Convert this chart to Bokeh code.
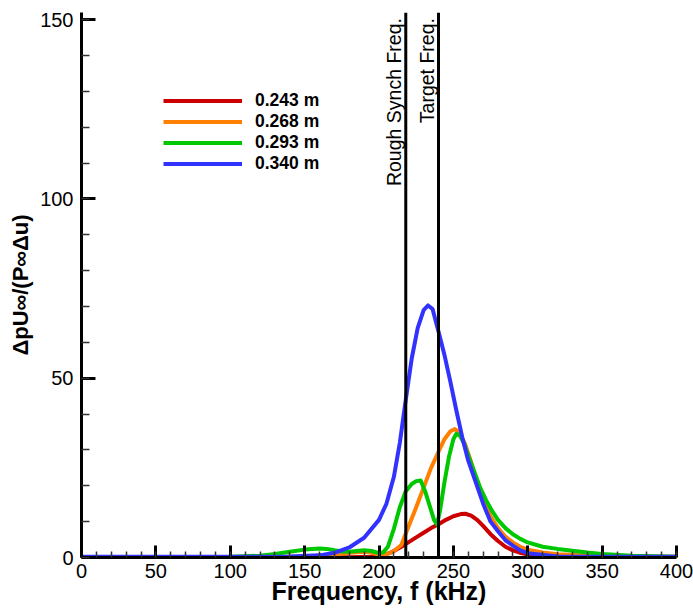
from bokeh.plotting import figure
from bokeh.models import Span, Label, Legend, LegendItem, FixedTicker, Range1d
from bokeh.embed import file_html
from bokeh.resources import INLINE

# ---------------- data ----------------
series_labels = ["0.243 m", "0.268 m", "0.293 m", "0.340 m"]
series_colors = ["#cc0000", "#ff8000", "#00c800", "#3232ff"]

f_red = [0, 100, 180, 195, 200, 205, 210, 215, 220, 225, 230, 235, 240, 245, 250,
         255, 258, 262, 266, 270, 275, 280, 285, 290, 295, 300, 310, 320, 350, 400]
v_red = [0.1, 0.1, 0.1, 0.2, 0.4, 0.9, 1.8, 3.0, 4.3, 5.6, 6.9, 8.2, 9.3, 10.5, 11.5,
         12.1, 12.2, 11.7, 10.5, 8.8, 6.5, 4.6, 3.0, 2.0, 1.3, 0.8, 0.4, 0.2, 0.1, 0.1]

f_orange = [0, 100, 150, 170, 180, 190, 195, 200, 205, 210, 215, 220, 225, 230, 235,
            240, 244, 248, 251, 254, 258, 262, 266, 270, 275, 280, 285, 290, 295, 300,
            310, 320, 350, 400]
v_orange = [0.1, 0.1, 0.3, 0.8, 1.3, 1.6, 1.3, 0.8, 0.9, 1.8, 3.5, 8.8, 14.0, 19.5, 25.0,
            29.5, 33.0, 35.2, 35.8, 35.0, 31.5, 26.5, 21.0, 16.5, 11.5, 8.2, 5.8, 4.2, 3.0, 2.2,
            1.4, 0.9, 0.4, 0.2]

f_green = [0, 100, 120, 130, 140, 150, 155, 160, 165, 170, 175, 180, 185, 190, 195,
           200, 203, 206, 210, 214, 218, 222, 225, 228, 231, 234, 237, 239, 241, 244,
           247, 250, 252, 254, 257, 260, 264, 268, 272, 276, 280, 285, 290, 295, 300,
           310, 320, 330, 340, 350, 370, 400]
v_green = [0.1, 0.2, 0.5, 1.0, 1.6, 2.2, 2.4, 2.5, 2.4, 2.0, 1.7, 1.6, 1.8, 2.0, 1.8,
           1.2, 1.5, 3.0, 8.0, 14.0, 18.5, 20.5, 21.3, 21.5, 18.5, 14.5, 10.5, 9.2, 13.0, 21.0,
           28.0, 33.0, 34.5, 34.2, 32.0, 28.5, 24.0, 19.5, 16.0, 13.0, 10.5, 8.2, 6.5, 5.2, 4.2,
           3.0, 2.4, 1.9, 1.4, 1.0, 0.5, 0.2]

f_blue = [0, 100, 140, 160, 170, 180, 190, 200, 205, 210, 214, 218, 222, 226, 230,
          233, 236, 240, 244, 248, 252, 256, 260, 265, 270, 275, 280, 285, 290, 295,
          300, 320, 350, 400]
v_blue = [0.2, 0.2, 0.3, 0.6, 1.3, 2.8, 5.5, 10.5, 15.0, 22.5, 32.0, 44.0, 55.5, 64.0, 69.0,
          70.3, 69.3, 63.0, 56.5, 49.0, 41.0, 33.5, 27.0, 21.0, 15.0, 10.0, 7.3, 4.8, 3.3, 2.0,
          1.2, 0.3, 0.2, 0.2]

marker_freqs = [218, 240]
marker_texts = ["Rough Synch Freq.", "Target Freq."]

x_major = [0, 50, 100, 150, 200, 250, 300, 350, 400]
y_major = [0, 50, 100, 150]

FONT = "Liberation Sans"

# ---------------- figure ----------------
p = figure(width=693, height=610, output_backend="svg", toolbar_location=None,
           x_range=Range1d(0, 400), y_range=Range1d(0, 152),
           min_border_left=81, min_border_right=17, min_border_top=12,
           min_border_bottom=53)
p.outline_line_color = None
p.grid.visible = False
p.background_fill_color = "white"
p.border_fill_color = "white"

xa = p.xaxis[0]
xa.ticker = FixedTicker(ticks=x_major, minor_ticks=list(range(0, 401, 10)))
ya = p.yaxis[0]
ya.ticker = FixedTicker(ticks=y_major, minor_ticks=list(range(0, 151, 10)))

for ax in (xa, ya):
    ax.axis_line_width = 3
    ax.axis_line_color = "black"
    ax.major_tick_out = 0
    ax.minor_tick_out = 0
    ax.major_tick_line_width = 3
    ax.minor_tick_line_width = 1.5
    ax.major_tick_line_color = "black"
    ax.minor_tick_line_color = "#333333"
    ax.major_label_text_font = FONT
    ax.major_label_text_font_size = "20px"
    ax.major_label_text_color = "black"
    ax.axis_label_text_font = FONT
    ax.axis_label_text_font_style = "bold"
    ax.axis_label_text_color = "black"

xa.major_tick_in = 12
xa.minor_tick_in = 6
xa.major_label_standoff = 6
xa.axis_label = "Frequency, f (kHz)"
xa.axis_label_text_font_size = "25px"
xa.axis_label_standoff = -4

ya.major_tick_in = 14
ya.minor_tick_in = 8
ya.major_label_standoff = 8
ya.axis_label = "\u0394pU\u221e/(P\u221e\u0394u)"
ya.axis_label_text_font_size = "22px"
ya.axis_label_standoff = 4

# ---------------- curves ----------------
renderers = []
for fx, vy, col in zip([f_red, f_orange, f_green, f_blue],
                       [v_red, v_orange, v_green, v_blue], series_colors):
    r = p.line(fx, vy, line_color=col, line_width=4, line_join="round")
    renderers.append(r)

# ---------------- marker lines ----------------
for fq, txt in zip(marker_freqs, marker_texts):
    p.add_layout(Span(location=fq, dimension="height", line_color="black", line_width=3))
    p.add_layout(Label(x=fq, y=151.0, x_units="data", y_units="data", text=txt,
                       angle=1.5707963, text_align="right", text_baseline="alphabetic",
                       x_offset=-12, y_offset=-2, text_font=FONT, text_font_size="19.5px",
                       text_color="black"))

# ---------------- legend ----------------
legend = Legend(items=[LegendItem(label=l, renderers=[r]) for l, r in zip(series_labels, renderers)],
                location=(82, 383), orientation="vertical",
                glyph_width=79, glyph_height=21, label_height=21, spacing=0,
                padding=0, margin=0, label_standoff=13,
                label_text_font=FONT, label_text_font_style="bold",
                label_text_font_size="17.5px", label_text_color="black",
                border_line_color=None, background_fill_alpha=0)
p.add_layout(legend)

open("out.html", "w").write(file_html(p, INLINE))
